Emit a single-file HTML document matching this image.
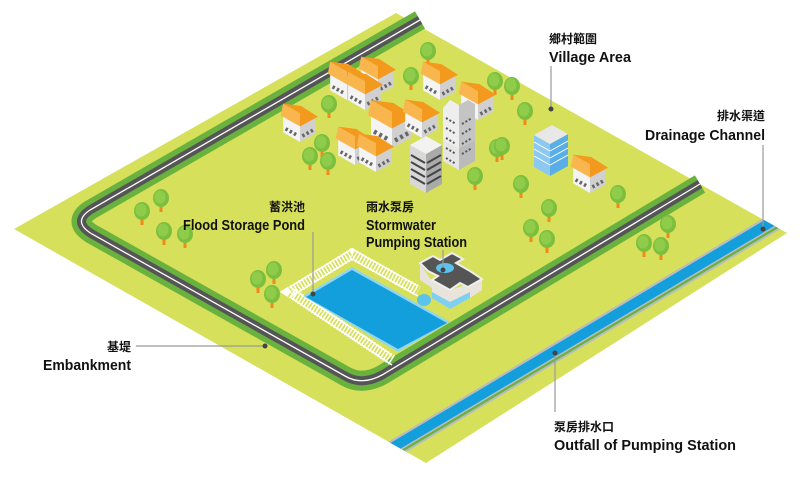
<!DOCTYPE html>
<html><head><meta charset="utf-8"><style>
html,body{margin:0;padding:0;background:#fff;width:800px;height:482px;overflow:hidden}
svg{display:block}
.zh{font-family:"Liberation Sans","Noto Sans CJK TC",sans-serif;font-weight:bold;font-size:12px;fill:#111}
.en{font-family:"Liberation Sans",sans-serif;font-weight:bold;font-size:15px;fill:#111}
</style></head><body>
<svg width="800" height="482" viewBox="0 0 800 482" xmlns="http://www.w3.org/2000/svg">
<defs>
<clipPath id="pl"><polygon points="396,13 787,233 426,463 14,229"/></clipPath>
<g id="tree"><rect x="-1.5" y="3" width="3" height="9" fill="#f08a1c"/><ellipse cx="0" cy="-2" rx="8" ry="9" fill="#7cbf3f"/><ellipse cx="-1" cy="-3" rx="5.5" ry="6.5" fill="#8fcc4a"/></g>
<g id="h0">
<polygon points="-14,-8 0,0 0,-14 -14,-22" fill="#f4f4f4"/>
<polygon points="0,0 13,-7 13,-21 0,-14" fill="#d0d0d0"/>
<polygon points="-16,-22 0,-13 0,-24 -14,-32" fill="#f9b64f"/>
<polygon points="0,-13 15,-21 1,-30 -14,-32 0,-24" fill="#f39a1e"/>
<line x1="-12" y1="-11" x2="-3" y2="-6" stroke="#666" stroke-width="3" stroke-dasharray="2,2"/>
<line x1="2" y1="-5" x2="11" y2="-10" stroke="#666" stroke-width="3" stroke-dasharray="2,2"/>
</g>
<g id="house"><use href="#h0" transform="scale(1.2)"/></g>
</defs>
<polygon points="396,13 787,233 426,463 14,229" fill="#d6e05a"/>
<g clip-path="url(#pl)">
<line x1="340" y1="481" x2="815" y2="198" stroke="#b8bcc0" stroke-width="18"/>
<line x1="340" y1="481" x2="815" y2="198" stroke="#6ab23e" stroke-width="14"/>
<line x1="339" y1="479.5" x2="814" y2="196.5" stroke="#b8bcc0" stroke-width="13"/>
<line x1="339" y1="479.5" x2="814" y2="196.5" stroke="#129fdc" stroke-width="10"/>
</g>
<path d="M420,20 L90,210 Q72,222 92,234 L345,376 Q362,386 382,375 L700,184" fill="none" stroke="#6ab23e" stroke-width="20" stroke-linejoin="round"/>
<path d="M420,20 L90,210 Q72,222 92,234 L345,376 Q362,386 382,375 L700,184" fill="none" stroke="#555" stroke-width="9"/>
<path d="M420,20 L90,210 Q72,222 92,234 L345,376 Q362,386 382,375 L700,184" fill="none" stroke="#fff" stroke-width="1.3"/>
<polyline points="392,360 290,292 352,254 418,291" fill="none" stroke="#fff" stroke-width="11" stroke-dasharray="1.5,1.8"/>
<polyline points="392,355 290,287 352,249 418,286" fill="none" stroke="#fff" stroke-width="1.5"/>
<polyline points="392,365 290,297 352,259 418,296" fill="none" stroke="#fff" stroke-width="1.5"/>
<polygon points="303,296 352,267 450,322 398,352" fill="#8fd6f2"/>
<polygon points="306,297 352,270 447,323 398,349" fill="#129fdc"/>
<polygon points="420,264 420,280 432,288 432,298 450,309 470,298 482,290 482,280 450,290 432,281" fill="#e8e4dc"/>
<polygon points="432,292 450,302 470,292 470,298 450,309 432,298" fill="#7ed0f0"/>
<polygon points="420,263 433,256 440,260 452,253 463,259 456,263 470,271 482,279 468,287 460,283 450,290 432,280 438,276 428,271" fill="#555" stroke="#eee" stroke-width="2"/>
<ellipse cx="445" cy="268" rx="9" ry="5" fill="#5cc3ec"/>
<ellipse cx="424" cy="300" rx="7" ry="6" fill="#5cc3ec"/>
<g>
<use href="#tree" x="142" y="213"/><use href="#tree" x="161" y="200"/><use href="#tree" x="164" y="233"/><use href="#tree" x="185" y="236"/>
<use href="#tree" x="258" y="281"/><use href="#tree" x="274" y="272"/><use href="#tree" x="272" y="296"/>
<use href="#tree" x="428" y="53"/><use href="#tree" x="411" y="78"/><use href="#tree" x="329" y="106"/><use href="#tree" x="322" y="145"/>
<use href="#tree" x="310" y="158"/><use href="#tree" x="328" y="163"/><use href="#tree" x="495" y="83"/><use href="#tree" x="512" y="88"/>
<use href="#tree" x="525" y="113"/><use href="#tree" x="497" y="150"/><use href="#tree" x="475" y="178"/><use href="#tree" x="521" y="186"/>
<use href="#tree" x="549" y="210"/><use href="#tree" x="531" y="230"/><use href="#tree" x="547" y="241"/><use href="#tree" x="618" y="196"/>
<use href="#tree" x="668" y="226"/><use href="#tree" x="644" y="245"/><use href="#tree" x="661" y="248"/><use href="#tree" x="502" y="148"/>
</g>
<use href="#house" x="300" y="142"/><use href="#house" x="378" y="95"/><use href="#house" x="347" y="100"/><use href="#house" x="365" y="110"/>
<use href="#house" x="392" y="148" transform="translate(392,148) scale(1.25) translate(-392,-148)"/>
<use href="#house" x="422" y="138"/><use href="#house" x="440" y="100"/><use href="#house" x="478" y="120"/>
<use href="#house" x="355" y="165"/><use href="#house" x="376" y="172"/><use href="#house" x="590" y="193"/>
<polygon points="443,140 459,149 459,170 443,161" fill="#e6e6e6"/>
<polygon points="459,149 475,140 475,161 459,170" fill="#bbb"/>
<polygon points="450,100 459,105 459,149 443,140 443,108" fill="#eee"/>
<polygon points="459,105 468,100 475,104 475,140 459,149" fill="#c4c4c4"/>
<g stroke="#555" stroke-width="2" stroke-dasharray="2,2"><line x1="446" y1="118" x2="456" y2="124"/><line x1="446" y1="128" x2="456" y2="134"/><line x1="446" y1="138" x2="456" y2="144"/><line x1="446" y1="148" x2="456" y2="154"/><line x1="446" y1="158" x2="456" y2="164"/><line x1="462" y1="124" x2="472" y2="118"/><line x1="462" y1="134" x2="472" y2="128"/><line x1="462" y1="144" x2="472" y2="138"/><line x1="462" y1="154" x2="472" y2="148"/></g>
<polygon points="410,145 426,154 426,193 410,184" fill="#d8d8d8"/>
<polygon points="426,154 442,145 442,184 426,193" fill="#aaa"/>
<polygon points="410,145 426,136 442,145 426,154" fill="#f2f2f2"/>
<g stroke="#444" stroke-width="2"><line x1="411" y1="155" x2="425" y2="163"/><line x1="411" y1="162" x2="425" y2="170"/><line x1="411" y1="169" x2="425" y2="177"/><line x1="411" y1="176" x2="425" y2="184"/><line x1="427" y1="163" x2="441" y2="155"/><line x1="427" y1="170" x2="441" y2="162"/><line x1="427" y1="177" x2="441" y2="169"/><line x1="427" y1="184" x2="441" y2="176"/></g>
<polygon points="534,135 550,144 550,176 534,167" fill="#8cc8ef"/>
<polygon points="550,144 568,134 568,166 550,176" fill="#5aaee6"/>
<polygon points="534,135 552,125 568,134 550,144" fill="#e8e8e8"/>
<g stroke="#fff" stroke-width="1"><line x1="534" y1="142" x2="550" y2="151"/><line x1="534" y1="149" x2="550" y2="158"/><line x1="534" y1="156" x2="550" y2="165"/><line x1="550" y1="151" x2="568" y2="141"/><line x1="550" y1="158" x2="568" y2="148"/><line x1="550" y1="165" x2="568" y2="155"/></g>
<g stroke="#999" stroke-width="1.2" fill="none">
<line x1="551" y1="66" x2="551" y2="109"/><line x1="763" y1="145" x2="763" y2="229"/>
<line x1="313" y1="232" x2="313" y2="294"/><line x1="443" y1="250" x2="443" y2="270"/>
<line x1="136" y1="346" x2="265" y2="346"/><line x1="555" y1="353" x2="555" y2="412"/>
</g>
<g fill="#444"><circle cx="551" cy="109" r="2.5"/><circle cx="763" cy="229" r="2.5"/><circle cx="313" cy="294" r="2.5"/><circle cx="443" cy="270" r="2.5"/><circle cx="265" cy="346" r="2.5"/><circle cx="555" cy="353" r="2.5"/></g>
<text class="zh" x="549" y="43">鄉村範圍</text>
<text class="en" x="549" y="62" textLength="82" lengthAdjust="spacingAndGlyphs">Village Area</text>
<text class="zh" x="765" y="120" text-anchor="end">排水渠道</text>
<text class="en" x="645" y="140" textLength="120" lengthAdjust="spacingAndGlyphs">Drainage Channel</text>
<text class="zh" x="305" y="211" text-anchor="end">蓄洪池</text>
<text class="en" x="183" y="230" textLength="122" lengthAdjust="spacingAndGlyphs">Flood Storage Pond</text>
<text class="zh" x="366" y="211">雨水泵房</text>
<text class="en" x="366" y="230" textLength="70" lengthAdjust="spacingAndGlyphs">Stormwater</text>
<text class="en" x="366" y="247" textLength="101" lengthAdjust="spacingAndGlyphs">Pumping Station</text>
<text class="zh" x="131" y="351" text-anchor="end">基堤</text>
<text class="en" x="43" y="370" textLength="88" lengthAdjust="spacingAndGlyphs">Embankment</text>
<text class="zh" x="554" y="431">泵房排水口</text>
<text class="en" x="554" y="450" textLength="182" lengthAdjust="spacingAndGlyphs">Outfall of Pumping Station</text>
</svg>
</body></html>
